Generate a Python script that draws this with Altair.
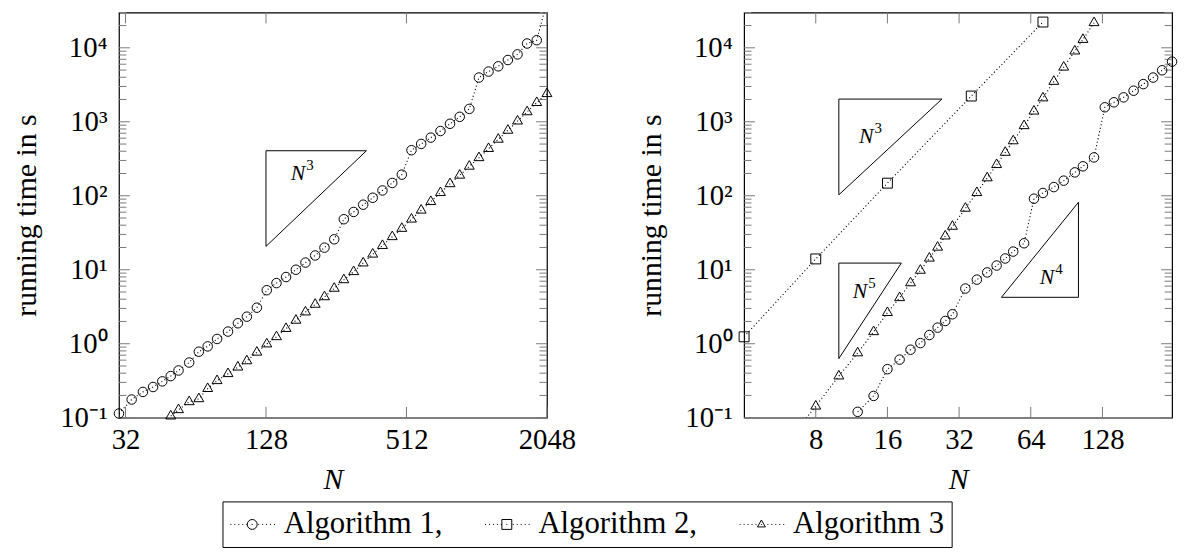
import altair as alt
import pandas as pd

FONT = "Liberation Serif"

# ---------------- left panel data ----------------
left_alg1_N = [30, 34, 38, 42, 46, 50, 54, 60, 66, 72, 79, 88, 97, 106, 117,
               129, 142, 156, 172, 189, 208, 228, 251,
               276, 304, 334, 367, 404, 445, 489,
               538, 592, 651, 716, 787, 866, 952,
               1047, 1151, 1267, 1393, 1532, 1684, 1852, 2048]
left_alg1_t = [0.114, 0.176, 0.223, 0.26, 0.31, 0.365, 0.435, 0.557, 0.78, 0.92, 1.16, 1.46, 1.89, 2.32, 3.07,
               5.29, 6.6, 7.97, 10.0, 12.5, 15.6, 19.9, 25.8,
               48.2, 60.4, 75.7, 94, 118, 149, 193,
               413, 502, 611, 750, 940, 1167, 1494,
               3963, 4773, 5623, 6839, 8147, 11430, 12670, 42000]
left_alg3_N = [50, 54, 60, 66, 72, 79, 88, 97, 106, 117,
               129, 142, 156, 172, 189, 208, 228, 251,
               276, 304, 334, 367, 404, 445, 489,
               538, 592, 651, 716, 787, 866, 952,
               1047, 1151, 1267, 1393, 1532, 1684, 1852, 2048]
left_alg3_t = [0.105, 0.128, 0.164, 0.18, 0.247, 0.316, 0.393, 0.482, 0.586, 0.766,
               0.99, 1.24, 1.6, 2.07, 2.68, 3.4, 4.3, 5.6,
               7.3, 9.4, 12.3, 16.2, 21.2, 27.9, 36.1,
               48.2, 63.7, 83.2, 110, 145, 189, 250,
               326, 434, 579, 765, 1020, 1361, 1815, 2393]

# ---------------- right panel data ----------------
right_alg1_N = [12, 14, 16, 18, 20, 22, 24, 26, 28, 30,
                34, 38, 42, 46, 50, 54, 60,
                66, 72, 80, 88, 98, 106, 118,
                131, 143, 157, 173, 190, 209, 228, 251]
right_alg1_t = [0.12, 0.197, 0.453, 0.61, 0.83, 1.02, 1.31, 1.65, 2.03, 2.5,
                5.57, 7.35, 9.2, 11.4, 14.2, 17.6, 22.8,
                91.2, 109, 131, 160, 207, 250, 330,
                1571, 1834, 2138, 2630, 3230, 3960, 4970, 6500]
right_alg2_N = [4, 8, 16, 36, 72]
right_alg2_t = [1.24, 14.0, 148, 2228, 22300]
right_alg3_N = [6, 8, 10, 12, 14, 16, 18, 20, 22, 24, 26, 28, 30,
                34, 38, 42, 46, 50, 54, 60, 66, 72, 80, 88, 98, 106, 118]
right_alg3_t = [0.045, 0.143, 0.365, 0.75, 1.45, 2.63, 4.18, 6.63, 9.8, 14.3, 20.1, 28.5, 38.5,
                67.6, 110, 174, 263, 385, 551, 883, 1390, 2096, 3507, 5460, 9020, 12930, 21800]

# slope triangles (vertex lists) and their labels
left_tri_N = [128, 128, 345, 128]
left_tri_t = [20.7, 406, 406, 20.7]
right_tri3_N = [10, 10, 27.1, 10]
right_tri3_t = [103, 2027, 2027, 103]
right_tri5_N = [10, 10, 18.3, 10]
right_tri5_t = [0.63, 12.3, 12.3, 0.63]
right_tri4_N = [48.2, 101.5, 101.5, 48.2]
right_tri4_t = [4.24, 4.24, 81.6, 4.24]

left_note_base = ["N"]
left_note_exp = ["3"]
left_note_N = [183]
left_note_t = [205]
right_note_base = ["N", "N", "N"]
right_note_exp = ["3", "5", "4"]
right_note_N = [13.6, 12.8, 78]
right_note_t = [650, 5.2, 8.07]

# axes
left_xdomain = [30, 2048]
right_xdomain = [4, 251]
ydomain = [0.1, 30000]
left_xticks = [32, 128, 512, 2048]
right_xticks = [8, 16, 32, 64, 128]
y_major = [0.1, 1, 10, 100, 1000, 10000]
y_major_labels = ["10⁻¹", "10⁰", "10¹", "10²", "10³", "10⁴"]
y_minor = [0.2, 0.3, 0.4, 0.5, 0.6, 0.7, 0.8, 0.9,
           2, 3, 4, 5, 6, 7, 8, 9,
           20, 30, 40, 50, 60, 70, 80, 90,
           200, 300, 400, 500, 600, 700, 800, 900,
           2000, 3000, 4000, 5000, 6000, 7000, 8000, 9000,
           20000, 30000]

legend_names = ["Algorithm 1,", "Algorithm 2,", "Algorithm 3"]

# ---------------- styling ----------------
W = 432
H = 409
MAJ = 11
MINL = 7.5
TICK_COLOR = "#7a7a7a"
DOTS = [-3.0, -2.2, -1.4, -0.6, 0.2, 1.3, 2.6, 3.4, 4.2, 5.0, 5.8]
dot_path = "".join(f"M{d:.2f},0h0.2" for d in DOTS)
legend_paths = [
    "M2.4,0A1,1,0,1,1,0.4,0A1,1,0,1,1,2.4,0Z" + dot_path,
    "M0.4,-1H2.4V1H0.4Z" + dot_path,
    "M1.4,-0.9L2.2,0.5L0.6,0.5Z" + dot_path,
]
TRI_SHAPE = "M0,-1.1547L1,0.5774L-1,0.5774Z"

label_expr = ""
for v, lab in zip(y_major, y_major_labels):
    label_expr += f"datum.value < {v * 3} ? '{lab}' : "
label_expr += "''"


def make_panel(series, xdomain, xticks, tris, notes, with_legend):
    xs = alt.Scale(type="log", domain=xdomain, nice=False)
    ys = alt.Scale(type="log", domain=ydomain, nice=False)
    xaxis = alt.Axis(values=xticks, format="d", title="N", labelFlush=False,
                     labelOverlap=False, labelPadding=8, titleFontStyle="italic",
                     titleBaseline="top", titleY=47)
    yaxis = alt.Axis(values=y_major, labelExpr=label_expr, title="running time in s",
                     labelFlush=False, labelOverlap=False, labelPadding=12,
                     titleAngle=270, titleBaseline="bottom", titleX=-78, titleY=H / 2)
    X = alt.X("N:Q", scale=xs, axis=xaxis)
    Y = alt.Y("t:Q", scale=ys, axis=yaxis)

    layers = []
    ymaj = pd.DataFrame({"t": y_major})
    ymin = pd.DataFrame({"t": y_minor})
    xmaj = pd.DataFrame({"N": xticks})
    rule = dict(color=TICK_COLOR, strokeWidth=1)
    layers.append(alt.Chart(ymaj).mark_rule(**rule).encode(y=Y, x=alt.value(0), x2=alt.value(MAJ)))
    layers.append(alt.Chart(ymaj).mark_rule(**rule).encode(y=Y, x=alt.value(W - MAJ), x2=alt.value(W)))
    layers.append(alt.Chart(ymin).mark_rule(**rule).encode(y=Y, x=alt.value(0), x2=alt.value(MINL)))
    layers.append(alt.Chart(ymin).mark_rule(**rule).encode(y=Y, x=alt.value(W - MINL), x2=alt.value(W)))
    layers.append(alt.Chart(xmaj).mark_rule(**rule).encode(x=X, y=alt.value(H - MAJ), y2=alt.value(H)))
    layers.append(alt.Chart(xmaj).mark_rule(**rule).encode(x=X, y=alt.value(0), y2=alt.value(MAJ)))

    for k, (tn, tt) in enumerate(tris):
        df = pd.DataFrame({"N": tn, "t": tt, "o": list(range(len(tn)))})
        layers.append(alt.Chart(df).mark_line(color="black", strokeWidth=1).encode(
            x=X, y=Y, order="o:Q"))

    nbase, nexp, nN, nt = notes
    ndf = pd.DataFrame({"N": nN, "t": nt, "base": nbase, "exp": nexp})
    layers.append(alt.Chart(ndf).mark_text(font=FONT, fontStyle="italic", fontSize=22,
                                           color="black", align="right", baseline="middle",
                                           dx=3).encode(x=X, y=Y, text="base:N"))
    layers.append(alt.Chart(ndf).mark_text(font=FONT, fontSize=15,
                                           color="black", align="left", baseline="middle",
                                           dx=4, dy=-8).encode(x=X, y=Y, text="exp:N"))

    for name, N, t, shape, size in series:
        df = pd.DataFrame({"N": N, "t": t})
        layers.append(alt.Chart(df).mark_line(color="black", strokeWidth=1.1, strokeDash=[1.1, 2.5],
                                              clip=True).encode(x=X, y=Y))
        layers.append(alt.Chart(df).mark_point(shape=shape, size=size, filled=False, color="black",
                                               strokeWidth=1, opacity=1).encode(x=X, y=Y)
                      .transform_filter("datum.t >= 0.1 && datum.t <= 30000"))

    if with_legend:
        ldf = pd.DataFrame({"alg": legend_names})
        layers.append(alt.Chart(ldf).mark_point(filled=False, color="black", strokeWidth=1, opacity=1)
                      .encode(shape=alt.Shape("alg:N",
                                              scale=alt.Scale(domain=legend_names, range=legend_paths),
                                              legend=alt.Legend(
                                                  title=None, orient="none", legendX=104.5, legendY=493.5,
                                                  direction="horizontal", columns=3, gridAlign="all",
                                                  columnPadding=40, labelFont=FONT, labelFontSize=31,
                                                  labelColor="black", labelLimit=400, labelOffset=23.4,
                                                  symbolSize=100, symbolStrokeWidth=1,
                                                  symbolStrokeColor="black", symbolFillColor="transparent",
                                                  symbolOpacity=1, padding=7.5, strokeColor="black")))
                      .transform_filter("false"))

    return alt.layer(*layers).properties(width=W, height=H)


left = make_panel(
    [("Algorithm 1", left_alg1_N, left_alg1_t, "circle", 92),
     ("Algorithm 3", left_alg3_N, left_alg3_t, TRI_SHAPE, 100)],
    left_xdomain, left_xticks,
    [(left_tri_N, left_tri_t)],
    (left_note_base, left_note_exp, left_note_N, left_note_t), True)

right = make_panel(
    [("Algorithm 1", right_alg1_N, right_alg1_t, "circle", 92),
     ("Algorithm 2", right_alg2_N, right_alg2_t, "square", 100),
     ("Algorithm 3", right_alg3_N, right_alg3_t, TRI_SHAPE, 100)],
    right_xdomain, right_xticks,
    [(right_tri3_N, right_tri3_t), (right_tri5_N, right_tri5_t), (right_tri4_N, right_tri4_t)],
    (right_note_base, right_note_exp, right_note_N, right_note_t), False)

chart = alt.hconcat(left, right, spacing=199, bounds="flush").resolve_scale(
    x="independent", y="independent", shape="independent"
).resolve_legend(shape="independent").properties(
    padding={"left": 3, "top": 0, "right": 0, "bottom": 0}
).configure_view(stroke="black", strokeWidth=1.2).configure_axis(
    grid=False, ticks=False, domain=False, labelFont=FONT, titleFont=FONT,
    labelFontSize=29, titleFontSize=30, labelColor="black", titleColor="black",
    titleFontWeight="normal"
)

chart.save("out.html", embed_options={"renderer": "svg", "actions": False})
